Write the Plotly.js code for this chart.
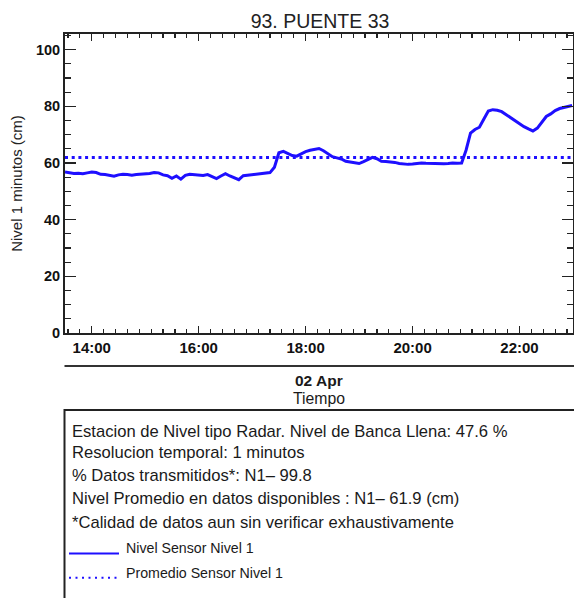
<!DOCTYPE html>
<html>
<head>
<meta charset="utf-8">
<script src="https://cdn.plot.ly/plotly-3.0.1.min.js"></script>
<style>html,body{margin:0;padding:0;background:#fff;}#chart{width:574px;height:598px;}</style>
</head>
<body>
<div id="chart"></div>
<script>
// ---- data ----
const day = '2024-04-02';
const times = [
'13:30','13:35','13:40','13:45','13:50','13:55','14:00','14:05','14:10','14:15','14:20','14:25',
'14:30','14:35','14:40','14:45','14:50','14:55','15:00','15:05','15:10','15:15','15:20','15:25',
'15:30','15:35','15:40','15:45','15:50','15:55','16:00','16:05','16:10','16:15','16:20','16:25',
'16:30','16:35','16:40','16:45','16:50','16:55','17:00','17:05','17:10','17:15','17:20','17:25',
'17:30','17:35','17:40','17:45','17:50','17:55','18:00','18:05','18:10','18:15','18:20','18:25',
'18:30','18:35','18:40','18:45','18:50','18:55','19:00','19:05','19:10','19:15','19:20','19:25',
'19:30','19:35','19:40','19:45','19:50','19:55','20:00','20:05','20:10','20:15','20:20','20:25',
'20:30','20:35','20:40','20:45','20:50','20:55','21:00','21:05','21:10','21:15','21:20','21:25',
'21:30','21:35','21:40','21:45','21:50','21:55','22:00','22:05','22:10','22:15','22:20','22:25',
'22:30','22:35','22:40','22:45','22:50','22:55','22:59'
];
const nivel = [
56.8,56.5,56.3,56.4,56.2,56.5,56.8,56.6,56.0,55.9,55.6,55.3,
55.8,56.0,55.9,55.7,55.9,56.0,56.2,56.3,56.6,56.5,55.8,55.5,
54.6,55.4,54.3,55.6,56.0,55.8,55.7,55.6,55.9,55.2,54.5,55.4,
56.2,55.4,54.8,54.1,55.5,55.7,55.8,55.9,56.1,56.4,56.6,58.5,
63.6,64.1,63.4,62.6,62.4,63.3,64.0,64.5,64.7,65.1,64.3,63.2,
62.2,61.8,61.4,60.6,60.3,60.0,59.8,60.5,61.4,62.0,61.5,60.6,
60.5,60.4,60.2,59.8,59.6,59.5,59.6,59.9,60.0,59.9,59.8,59.9,
59.7,59.7,59.8,60.0,59.9,60.0,64.5,70.5,71.8,72.6,75.5,78.3,
78.8,78.6,78.1,77.0,75.9,75.0,73.9,72.8,72.0,71.3,72.3,74.4,
76.4,77.3,78.5,79.2,79.6,79.9,80.3
];
const promedio = 61.9;
const rangeStart = '13:30', rangeEnd = '23:00';
const titleText = '93. PUENTE 33';
const yTitle = 'Nivel 1 minutos (cm)';
const dateLabel = '02 Apr';
const xTitle = 'Tiempo';
const infoLines = [
  'Estacion de Nivel tipo Radar. Nivel de Banca Llena: 47.6 %',
  'Resolucion temporal: 1 minutos',
  '% Datos transmitidos*: N1\u2013 99.8',
  'Nivel Promedio en datos disponibles : N1\u2013 61.9 (cm)',
  '*Calidad de datos aun sin verificar exhaustivamente'
];
const legendLabels = ['Nivel Sensor Nivel 1', 'Promedio Sensor Nivel 1'];

// ---- layout helpers ----
const W = 574, H = 598, L = 65, R = 573, T = 34, B = 333;
const px = x => (x - L) / (R - L);
const py = y => (B - y) / (B - T);
const blue = 'rgb(30,15,255)';
const dark = '#1a1a1a';
const FONT = '"Liberation Sans", Arial, sans-serif';

const xs = times.map(t => day + ' ' + t);

const traces = [
  {x: xs, y: nivel, type: 'scatter', mode: 'lines', line: {color: blue, width: 3}, hoverinfo: 'skip'},
  {x: [day + ' ' + rangeStart, day + ' ' + rangeEnd], y: [promedio, promedio], type: 'scatter', mode: 'lines',
   line: {color: blue, width: 3, dash: '3px,3.7px'}, hoverinfo: 'skip'}
];

const infoY = [431, 452.5, 475.8, 498.7, 522.7];
const annotations = infoLines.map((t, i) => ({
  text: t, xref: 'paper', yref: 'paper', x: px(69.5), y: py(infoY[i]), xanchor: 'left', yanchor: 'middle',
  showarrow: false, font: {family: FONT, size: 16.6, color: dark}
}));
const legY = [548, 572.7];
legendLabels.forEach((t, i) => annotations.push({
  text: t, xref: 'paper', yref: 'paper', x: px(123.5), y: py(legY[i]), xanchor: 'left', yanchor: 'middle',
  showarrow: false, font: {family: FONT, size: 14.2, color: dark}
}));
annotations.push({text: '<b>' + dateLabel + '</b>', xref: 'paper', yref: 'paper', x: 0.5, y: py(381), xanchor: 'center', yanchor: 'middle',
  showarrow: false, font: {family: FONT, size: 15.5, color: dark}});
annotations.push({text: xTitle, xref: 'paper', yref: 'paper', x: 0.5, y: py(398), xanchor: 'center', yanchor: 'middle',
  showarrow: false, font: {family: FONT, size: 15.8, color: dark}});

const shapes = [
  {type: 'line', xref: 'paper', yref: 'paper', x0: px(64.5), x1: px(576), y0: py(366), y1: py(366), line: {color: '#333', width: 2}},
  {type: 'rect', xref: 'paper', yref: 'paper', x0: px(64.5), x1: px(576), y0: py(410), y1: py(640), line: {color: '#222', width: 2}},
  {type: 'line', xref: 'paper', yref: 'paper', x0: px(69), x1: px(119), y0: py(553.5), y1: py(553.5), line: {color: blue, width: 2}},
  {type: 'line', xref: 'paper', yref: 'paper', x0: px(69), x1: px(118), y0: py(577.7), y1: py(577.7), line: {color: blue, width: 2, dash: '2px,4.5px'}}
];

const layout = {
  width: W, height: H,
  margin: {l: L, r: W - R, t: T, b: H - B, pad: 0},
  paper_bgcolor: '#fff', plot_bgcolor: '#fff',
  showlegend: false,
  font: {family: FONT, color: dark},
  title: {text: titleText, font: {family: FONT, size: 19.5, color: '#222'}, x: px(320), xref: 'paper', xanchor: 'center',
          y: 1 - 21.5 / H, yref: 'container', yanchor: 'middle'},
  xaxis: {
    type: 'date', range: [day + ' ' + rangeStart, day + ' ' + rangeEnd],
    tickformat: '%H:%M', tick0: day + ' 00:00', dtick: 7200000,
    ticks: 'inside', ticklen: 7, tickwidth: 1.3, tickcolor: '#222',
    minor: {dtick: 800000, ticks: 'inside', ticklen: 4, tickwidth: 1.2, tickcolor: '#222', showgrid: false},
    showline: true, linecolor: '#222', linewidth: 2, mirror: 'ticks',
    showgrid: false, zeroline: false, fixedrange: true,
    tickfont: {family: FONT, size: 15, color: '#111', weight: 'bold'}, ticklabelstandoff: 0
  },
  yaxis: {
    range: [0, 105.5], dtick: 20, tick0: 0,
    ticks: 'inside', ticklen: 11, tickwidth: 1.3, tickcolor: '#222',
    minor: {dtick: 5, ticks: 'inside', ticklen: 6, tickwidth: 1.2, tickcolor: '#222', showgrid: false},
    showline: true, linecolor: '#222', linewidth: 2, mirror: 'ticks',
    showgrid: false, zeroline: false, fixedrange: true,
    tickfont: {family: FONT, size: 14.5, color: '#111', weight: 'bold'},
    title: {text: yTitle, font: {family: FONT, size: 15, color: '#222'}, standoff: 10}
  },
  annotations: annotations,
  shapes: shapes
};

Plotly.newPlot('chart', traces, layout, {staticPlot: true, displayModeBar: false});
</script>
</body>
</html>
